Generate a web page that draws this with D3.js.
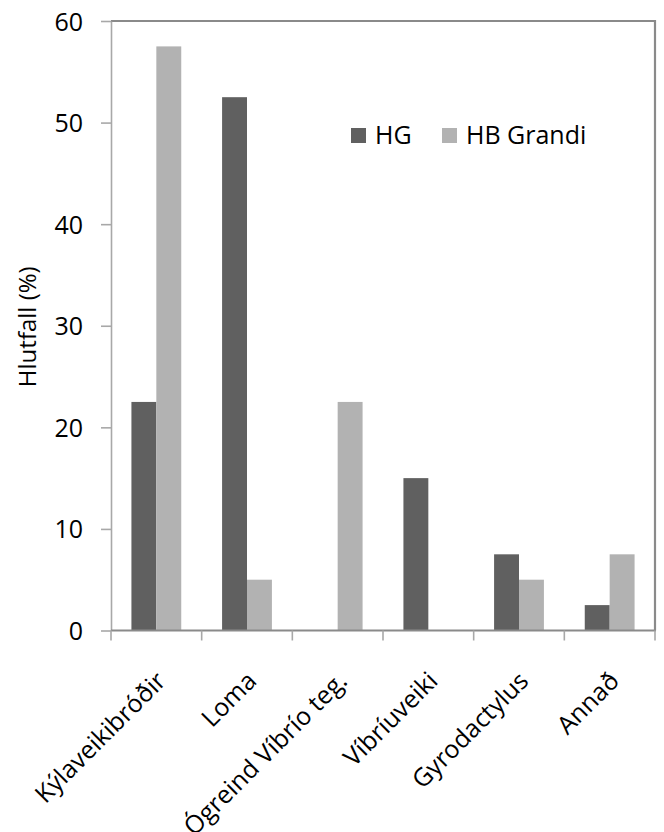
<!DOCTYPE html>
<html>
<head>
<meta charset="utf-8">
<script src="https://cdn.jsdelivr.net/npm/d3@7"></script>
<style>
  html, body { margin: 0; padding: 0; background: #fff; }
  svg { display: block; }
  text { font-family: "Open Sans", "Noto Sans", sans-serif; fill: #000; }
</style>
</head>
<body>
<svg id="chart" width="664" height="832"></svg>
<script>
// Categories and values (%)
const categories = ["Kýlaveikibróðir", "Loma", "Ógreind Víbrío teg.", "Víbríuveiki", "Gyrodactylus", "Annað"];
const seriesNames = ["HG", "HB Grandi"];
const hgValues = [22.5, 52.5, 0, 15, 7.5, 2.5];
const hbGrandiValues = [57.5, 5, 22.5, 0, 5, 7.5];
const yTicks = [0, 10, 20, 30, 40, 50, 60];
const seriesColors = ["#606060", "#b2b2b2"];

const seriesValues = [hgValues, hbGrandiValues];
const rows = categories.map((c, i) => ({
  category: c,
  values: seriesNames.map((s, j) => ({ series: s, value: seriesValues[j][i] }))
}));

const svg = d3.select("#chart");
const plot = { left: 111, right: 655, top: 21, bottom: 630.5 };

const x0 = d3.scaleBand().domain(categories).range([plot.left, plot.right]).padding(0);
const x1 = d3.scaleBand().domain(seriesNames).range([0, x0.bandwidth()])
  .paddingInner(0).paddingOuter(0.82);
const y = d3.scaleLinear().domain([0, 60]).range([plot.bottom, plot.top]);
const color = d3.scaleOrdinal().domain(seriesNames).range(seriesColors);

// Frame: top and right edges of the plot area
svg.append("path")
  .attr("d", `M${plot.left},${plot.top}H${plot.right}V${plot.bottom}`)
  .attr("fill", "none").attr("stroke", "#8a8a8a").attr("stroke-width", 2.2);

// Bars
const groups = svg.append("g").selectAll("g").data(rows).join("g")
  .attr("transform", d => `translate(${x0(d.category)},0)`);
groups.selectAll("rect").data(d => d.values).join("rect")
  .attr("x", d => x1(d.series))
  .attr("width", x1.bandwidth())
  .attr("y", d => y(d.value))
  .attr("height", d => y(0) - y(d.value))
  .attr("fill", d => color(d.series));

// Y axis
const yAxis = svg.append("g")
  .attr("transform", `translate(${plot.left},0)`)
  .call(d3.axisLeft(y).tickValues(yTicks).tickSize(10).tickPadding(18).tickSizeOuter(0));
yAxis.select(".domain").attr("stroke", "#a8a8a8").attr("stroke-width", 1.6);
yAxis.selectAll(".tick line").attr("stroke", "#a8a8a8").attr("stroke-width", 1.6);
yAxis.selectAll(".tick text").attr("font-size", 25).attr("dy", "0.36em")
  .style("font-family", "'Open Sans', sans-serif");

// X axis with ticks at category boundaries
const xAxisG = svg.append("g").attr("transform", `translate(0,${plot.bottom})`);
xAxisG.append("line").attr("x1", plot.left).attr("x2", plot.right + 1)
  .attr("stroke", "#8a8a8a").attr("stroke-width", 2.2);
const boundaries = categories.map(c => x0(c)).concat([plot.right]);
xAxisG.selectAll(".bt").data(boundaries).join("line")
  .attr("class", "bt")
  .attr("x1", d => d).attr("x2", d => d).attr("y1", 0).attr("y2", 10)
  .attr("stroke", "#a8a8a8").attr("stroke-width", 1.6);
xAxisG.selectAll(".xl").data(categories).join("text")
  .attr("class", "xl")
  .attr("font-size", 25)
  .attr("text-anchor", "end")
  .attr("transform", d => `translate(${x0(d) + x0.bandwidth() / 2 + 11},${52}) rotate(-45)`)
  .text(d => d);

// Y axis title
svg.append("text")
  .attr("font-size", 24)
  .attr("text-anchor", "middle")
  .attr("transform", `translate(36,${(plot.top + plot.bottom) / 2 + 1}) rotate(-90)`)
  .text("Hlutfall (%)");

// Legend
const legend = svg.append("g");
const legendItems = [{ name: "HG", x: 351 }, { name: "HB Grandi", x: 442 }];
legendItems.forEach(it => {
  legend.append("rect").attr("x", it.x).attr("y", 128).attr("width", 15).attr("height", 15)
    .attr("fill", color(it.name));
  legend.append("text").attr("x", it.x + 24).attr("y", 144).attr("font-size", 25).text(it.name);
});
</script>
</body>
</html>
